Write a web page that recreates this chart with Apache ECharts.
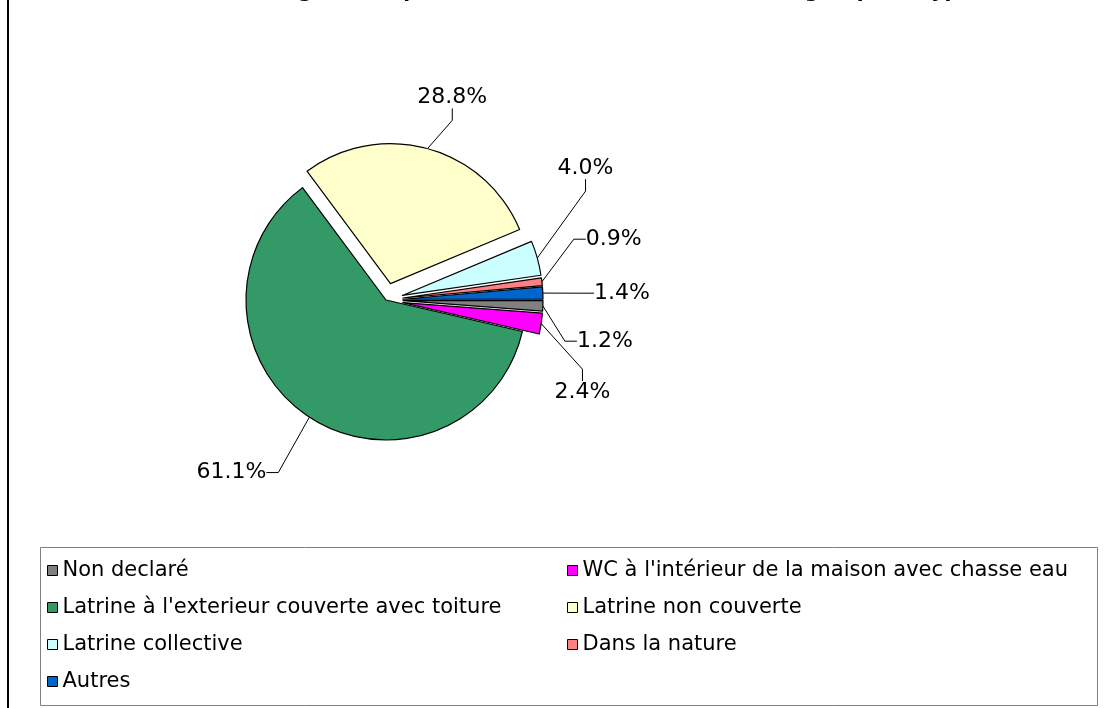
<!DOCTYPE html>
<html>
<head>
<meta charset="utf-8">
<script src="https://cdn.jsdelivr.net/npm/echarts@6/dist/echarts.min.js"></script>
<style>
  html, body { margin: 0; padding: 0; background: #fff; }
  #chart { width: 1119px; height: 708px; }
</style>
</head>
<body>
<div id="chart"></div>
<script>
// categories in drawing order (clockwise from 3 o'clock)
var categories = [
  "Non declaré",
  "WC à l'intérieur de la maison avec chasse eau",
  "Latrine à l'exterieur couverte avec toiture",
  "Latrine non couverte",
  "Latrine collective",
  "Dans la nature",
  "Autres"
];
var values = [1.2, 2.4, 61.1, 28.8, 4.0, 0.9, 1.4];
var colors = ["#808080", "#ff00ff", "#339966", "#ffffcc", "#ccffff", "#ff8080", "#0066cc"];
var exploded = [true, true, false, true, true, true, true];

var legendLeft = [categories[0], categories[2], categories[4], categories[6]];
var legendRight = [categories[1], categories[3], categories[5]];

// nudges of the value labels away from where echarts puts them (px)
var labelShift = [[2, 14], [-15, 41], [-14, 37], [-33, -30], [-13, -84], [10, -40], [17, -10]];

var font = "DejaVu Sans";
var R = 140, OFFSET = 17;

var myChart = echarts.init(document.getElementById("chart"));

function shiftLabel(params) {
  var s = labelShift[params.dataIndex];
  var r = params.labelRect;
  return { x: r.x + s[0], y: r.y + s[1], align: "left", verticalAlign: "top" };
}

var labelStyle = {
  position: "outside",
  fontFamily: font,
  fontSize: 22,
  color: "#000",
  formatter: function (p) {
    return p.value.toFixed(1) + "%";
  }
};
var lineStyle = {
  length: 22,
  length2: 12,
  lineStyle: { color: "#000", width: 1 }
};

// drawn slices (exploded ones are "selected"); only the unexploded slice
// keeps its label here, because label moves are ignored in the select state
var pieData = categories.map(function (name, i) {
  return {
    name: name,
    value: values[i],
    selected: exploded[i],
    itemStyle: { color: colors[i] },
    label: { show: !exploded[i] },
    labelLine: { show: !exploded[i] }
  };
});

// same values on a transparent pie, radius grown by the explode offset,
// carries the labels of the exploded slices
var labelData = categories.map(function (name, i) {
  return {
    name: "lbl" + i,
    value: values[i],
    label: { show: exploded[i] },
    labelLine: { show: exploded[i] }
  };
});

var legendBase = {
  orient: "vertical",
  top: 555,
  icon: "rect",
  itemWidth: 10,
  itemHeight: 10,
  itemGap: 16,
  selectedMode: false,
  itemStyle: { borderColor: "#000", borderWidth: 1 },
  textStyle: { fontFamily: font, fontSize: 21, color: "#000", lineHeight: 21 }
};

var option = {
  animation: false,
  backgroundColor: "#fff",
  title: {
    // only the bottom of the title shows in the picture
    text: "Nombre de logements par mode d'aisance (en %) selon le groupe et type",
    left: "center",
    top: -23,
    textStyle: { fontFamily: font, fontSize: 20, fontWeight: "bold", color: "#000" }
  },
  graphic: [
    {
      type: "rect",
      shape: { x: 8, y: -10, width: 1200, height: 800 },
      style: { fill: null, stroke: "#000", lineWidth: 2 },
      z: -1
    },
    {
      type: "rect",
      shape: { x: 40.5, y: 547.5, width: 1057, height: 158 },
      style: { fill: null, stroke: "#808080", lineWidth: 1 },
      z: -1
    }
  ],
  legend: [
    Object.assign({}, legendBase, { left: 42, data: legendLeft }),
    Object.assign({}, legendBase, { left: 562, data: legendRight })
  ],
  series: [
    {
      type: "pie",
      center: [386, 300],
      radius: [0, R],
      startAngle: 0,
      clockwise: true,
      selectedMode: "multiple",
      selectedOffset: OFFSET,
      avoidLabelOverlap: true,
      itemStyle: { borderColor: "#000", borderWidth: 1.2 },
      emphasis: { disabled: true },
      select: { itemStyle: { borderColor: "#000", borderWidth: 1.2 } },
      label: labelStyle,
      labelLine: lineStyle,
      labelLayout: shiftLabel,
      data: pieData
    },
    {
      type: "pie",
      center: [386, 300],
      radius: [0, R + OFFSET],
      startAngle: 0,
      clockwise: true,
      silent: true,
      selectedMode: false,
      avoidLabelOverlap: true,
      itemStyle: { color: "rgba(0,0,0,0)", borderWidth: 0 },
      emphasis: { disabled: true },
      label: labelStyle,
      labelLine: lineStyle,
      labelLayout: shiftLabel,
      data: labelData
    }
  ]
};

myChart.setOption(option);
window.addEventListener("resize", function () {
  myChart.resize();
});
</script>
</body>
</html>
